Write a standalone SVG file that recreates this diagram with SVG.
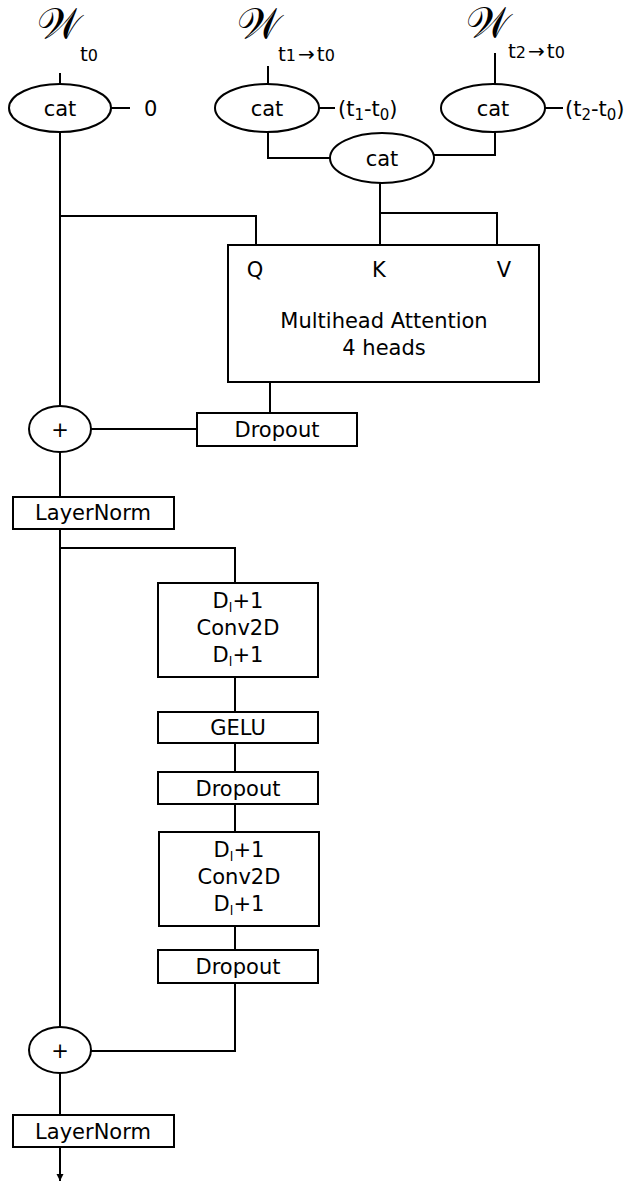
<svg xmlns="http://www.w3.org/2000/svg" width="635" height="1189" viewBox="0 0 635 1189">
  <style>
    .box { fill: #fff; stroke: #000; stroke-width: 2; }
    .wire { fill: none; stroke: #000; stroke-width: 2; }
    text { font-family: "DejaVu Sans", Verdana, sans-serif; font-size: 21px; fill: #000; }
    .mid { text-anchor: middle; }
    .sub { font-size: 20px; }
    .sub2 { font-size: 16px; }
    .w { font-family: "DejaVu Serif", "Noto Sans", serif; font-size: 42px; }
  </style>
  <defs>
    <marker id="arrow" markerWidth="10" markerHeight="10" refX="7" refY="4" orient="auto" markerUnits="userSpaceOnUse">
      <path d="M0,0.5 L7,4 L0,7.5 Z" fill="#000"/>
    </marker>
  </defs>

  <rect width="635" height="1189" fill="#fff"/>

  <!-- connectors -->
  <g id="connectors">
    <line class="wire" x1="60" y1="73" x2="60" y2="84"/>
    <line class="wire" x1="111" y1="108" x2="130" y2="108"/>
    <line class="wire" x1="268" y1="66" x2="268" y2="84"/>
    <line class="wire" x1="319" y1="108" x2="335" y2="108"/>
    <line class="wire" x1="495" y1="53" x2="495" y2="84"/>
    <line class="wire" x1="545" y1="108" x2="563" y2="108"/>
    <polyline class="wire" points="268,132 268,158 330,158"/>
    <polyline class="wire" points="495,132 495,155 434,155"/>
    <polyline class="wire" points="380,183 380,245"/>
    <polyline class="wire" points="380,213 497,213 497,245"/>
    <polyline class="wire" points="60,216 256,216 256,245"/>
    <line class="wire" x1="60" y1="132" x2="60" y2="406"/>
    <line class="wire" x1="270" y1="382" x2="270" y2="413"/>
    <line class="wire" x1="91" y1="429" x2="197" y2="429"/>
    <line class="wire" x1="60" y1="452" x2="60" y2="497"/>
    <line class="wire" x1="60" y1="529" x2="60" y2="1027"/>
    <polyline class="wire" points="60,548 235,548 235,583"/>
    <line class="wire" x1="235" y1="677" x2="235" y2="712"/>
    <line class="wire" x1="235" y1="743" x2="235" y2="772"/>
    <line class="wire" x1="235" y1="804" x2="235" y2="832"/>
    <line class="wire" x1="235" y1="926" x2="235" y2="950"/>
    <polyline class="wire" points="235,983 235,1051 91,1051"/>
    <line class="wire" x1="60" y1="1073" x2="60" y2="1115"/>
    <line class="wire" x1="60" y1="1147" x2="60" y2="1181" marker-end="url(#arrow)"/>
  </g>

  <!-- inputs -->
  <g id="input-w0">
    <text class="w" x="37" y="38">𝒲</text>
    <text class="sub" x="80" y="61">t<tspan class="sub2">0</tspan></text>
  </g>
  <g id="input-w1">
    <text class="w" x="237" y="38">𝒲</text>
    <text class="sub" x="278" y="61">t<tspan class="sub2">1</tspan><tspan dx="2">→</tspan><tspan dx="2">t</tspan><tspan class="sub2">0</tspan></text>
  </g>
  <g id="input-w2">
    <text class="w" x="466" y="37">𝒲</text>
    <text class="sub" x="508" y="58">t<tspan class="sub2">2</tspan><tspan dx="2">→</tspan><tspan dx="2">t</tspan><tspan class="sub2">0</tspan></text>
  </g>

  <!-- concatenation nodes -->
  <g id="cat-w0">
    <ellipse class="box" cx="60" cy="108" rx="51" ry="24"/>
    <text class="mid" x="60" y="116">cat</text>
    <text x="144" y="116">0</text>
  </g>
  <g id="cat-w1">
    <ellipse class="box" cx="267" cy="108" rx="52" ry="24"/>
    <text class="mid" x="267" y="116">cat</text>
    <text x="338" y="116">(t<tspan font-size="15" dy="4">1</tspan><tspan dy="-4">-t</tspan><tspan font-size="15" dy="4">0</tspan><tspan dy="-4">)</tspan></text>
  </g>
  <g id="cat-w2">
    <ellipse class="box" cx="493" cy="108" rx="52" ry="24"/>
    <text class="mid" x="493" y="116">cat</text>
    <text x="565" y="116">(t<tspan font-size="15" dy="4">2</tspan><tspan dy="-4">-t</tspan><tspan font-size="15" dy="4">0</tspan><tspan dy="-4">)</tspan></text>
  </g>
  <g id="cat-kv">
    <ellipse class="box" cx="382" cy="158" rx="52" ry="25"/>
    <text class="mid" x="382" y="166">cat</text>
  </g>

  <!-- attention block -->
  <g id="attention">
    <rect class="box" x="228" y="245" width="311" height="137"/>
    <text class="mid" x="255" y="277">Q</text>
    <text class="mid" x="379" y="277">K</text>
    <text class="mid" x="504" y="277">V</text>
    <text class="mid" x="384" y="328">Multihead Attention</text>
    <text class="mid" x="384" y="355">4 heads</text>
  </g>
  <g id="dropout-attn">
    <rect class="box" x="197" y="413" width="160" height="33"/>
    <text class="mid" x="277" y="437">Dropout</text>
  </g>
  <g id="add-1">
    <ellipse class="box" cx="60" cy="429" rx="31" ry="23"/>
    <text class="mid" x="60" y="437">+</text>
  </g>
  <g id="layernorm-1">
    <rect class="box" x="13" y="497" width="161" height="32"/>
    <text class="mid" x="93" y="520">LayerNorm</text>
  </g>

  <!-- feed-forward block -->
  <g id="conv-1">
    <rect class="box" x="158" y="583" width="160" height="94"/>
    <text class="mid" x="238" y="608">D<tspan font-size="13" dy="4">l</tspan><tspan dy="-4">+1</tspan></text>
    <text class="mid" x="238" y="635">Conv2D</text>
    <text class="mid" x="238" y="662">D<tspan font-size="13" dy="4">l</tspan><tspan dy="-4">+1</tspan></text>
  </g>
  <g id="gelu">
    <rect class="box" x="158" y="712" width="160" height="31"/>
    <text class="mid" x="238" y="735">GELU</text>
  </g>
  <g id="dropout-ff1">
    <rect class="box" x="158" y="772" width="160" height="32"/>
    <text class="mid" x="238" y="796">Dropout</text>
  </g>
  <g id="conv-2">
    <rect class="box" x="159" y="832" width="160" height="94"/>
    <text class="mid" x="239" y="857">D<tspan font-size="13" dy="4">l</tspan><tspan dy="-4">+1</tspan></text>
    <text class="mid" x="239" y="884">Conv2D</text>
    <text class="mid" x="239" y="911">D<tspan font-size="13" dy="4">l</tspan><tspan dy="-4">+1</tspan></text>
  </g>
  <g id="dropout-ff2">
    <rect class="box" x="158" y="950" width="160" height="33"/>
    <text class="mid" x="238" y="974">Dropout</text>
  </g>
  <g id="add-2">
    <ellipse class="box" cx="60" cy="1050" rx="31" ry="23"/>
    <text class="mid" x="60" y="1058">+</text>
  </g>
  <g id="layernorm-2">
    <rect class="box" x="13" y="1115" width="161" height="32"/>
    <text class="mid" x="93" y="1139">LayerNorm</text>
  </g>
</svg>
